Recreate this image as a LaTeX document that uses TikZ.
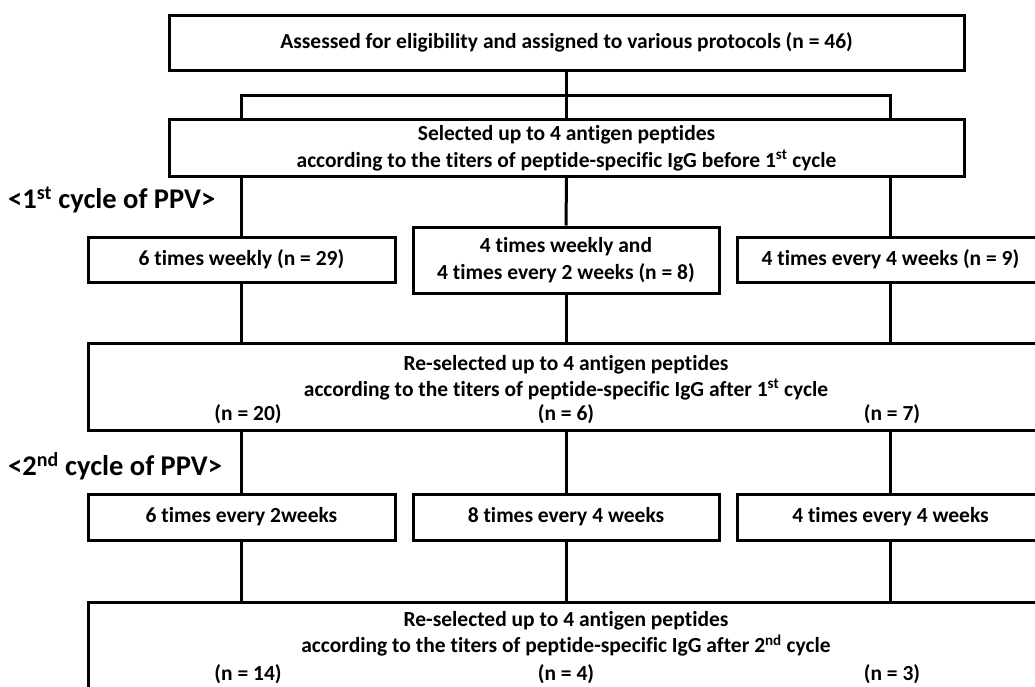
\documentclass[tikz,border=0pt]{standalone}
\usepackage{fontspec}
\setmainfont{Carlito}[Ligatures=NoCommon]
\usetikzlibrary{positioning}
\tikzset{
 caja/.style={
 rectangle,
 draw=black, line width=3pt,
 inner sep=0pt,
 font=\bfseries\fontsize{21.5}{27}\selectfont,
 align=center},
 texto/.style={
 inner sep=0pt,
 font=\bfseries\fontsize{21.5}{26}\selectfont,
 align=center},
 ciclo/.style={
 inner sep=0pt, anchor=west,
 font=\bfseries\fontsize{28.5}{30}\selectfont},
 linea/.style={line width=3pt}
}

\begin{document}
\begin{tikzpicture}[x=1pt, y=-1pt]
 \useasboundingbox (0,0) rectangle (1035,686);
 \clip (0,0) rectangle (1035,686);

 % top part
 \node[caja, minimum width=795, minimum height=55] (eleg) at (566.5,42.5)
 {Assessed for eligibility and assigned to various protocols (n = 46)};
 \node[caja, minimum width=795, minimum height=57] (sel) at (566.5,148)
 {Selected up to 4 antigen peptides\\according to the titers of peptide-specific IgG before 1\textsuperscript{st} cycle};
 \coordinate (brk) at (566.5,95);

 % 1st cycle
 \node[ciclo] (ciclo1) at (8,200) {<1\textsuperscript{st} cycle of PPV>};
 \node[caja, minimum width=307, minimum height=45] (sem) at (241.5,259.5) {6 times weekly (n = 29)};
 \node[caja, minimum width=306, minimum height=66] (mix) at (566,260) {4 times weekly and\\4 times every 2 weeks (n = 8)};
 \node[caja, minimum width=307, minimum height=45] (cuatro) at (890.5,259.5) {4 times every 4 weeks (n = 9)};

 \node[caja, minimum width=956, minimum height=87] (resel1) at (566,386.5) {};
 \node[texto] (resel1t) at (566,377.5)
 {Re-selected up to 4 antigen peptides\\according to the titers of peptide-specific IgG after 1\textsuperscript{st} cycle};
 \node[texto] (n20) at (248,414) {(n = 20)};
 \node[texto] (n6) at (566,414) {(n = 6)};
 \node[texto] (n7) at (892,414) {(n = 7)};

 % 2nd cycle
 \node[ciclo] (ciclo2) at (8,466) {<2\textsuperscript{nd} cycle of PPV>};
 \node[caja, minimum width=307, minimum height=46] (dos) at (241.5,517) {6 times every 2weeks};
 \node[caja, minimum width=306, minimum height=46] (ocho) at (566,517) {8 times every 4 weeks};
 \node[caja, minimum width=307, minimum height=46] (cuatrob) at (890.5,517) {4 times every 4 weeks};

 \node[caja, minimum width=956, minimum height=110] (resel2) at (566,657) {};
 \node[texto] (resel2t) at (566,634)
 {Re-selected up to 4 antigen peptides\\according to the titers of peptide-specific IgG after 2\textsuperscript{nd} cycle};
 \node[texto] (n14) at (248,674) {(n = 14)};
 \node[texto] (n4) at (566,674) {(n = 4)};
 \node[texto] (n3) at (892,674) {(n = 3)};

 % connectors
 \draw[linea] (eleg) -- (sel);
 \draw[linea] (sem |- sel.north) |- (brk) -| (cuatro |- sel.north);
 \draw[linea] (sem |- sel.south) -- (sem.north);
 \draw[linea] (sel.south) -- (mix.north);
 \draw[linea] (cuatro |- sel.south) -- (cuatro.north);
 \draw[linea] (sem.south) -- (sem |- resel1.north);
 \draw[linea] (mix.south) -- (mix |- resel1.north);
 \draw[linea] (cuatro.south) -- (cuatro |- resel1.north);
 \draw[linea] (dos |- resel1.south) -- (dos.north);
 \draw[linea] (ocho |- resel1.south) -- (ocho.north);
 \draw[linea] (cuatrob |- resel1.south) -- (cuatrob.north);
 \draw[linea] (dos.south) -- (dos |- resel2.north);
 \draw[linea] (ocho.south) -- (ocho |- resel2.north);
 \draw[linea] (cuatrob.south) -- (cuatrob |- resel2.north);
\end{tikzpicture}
\end{document}
